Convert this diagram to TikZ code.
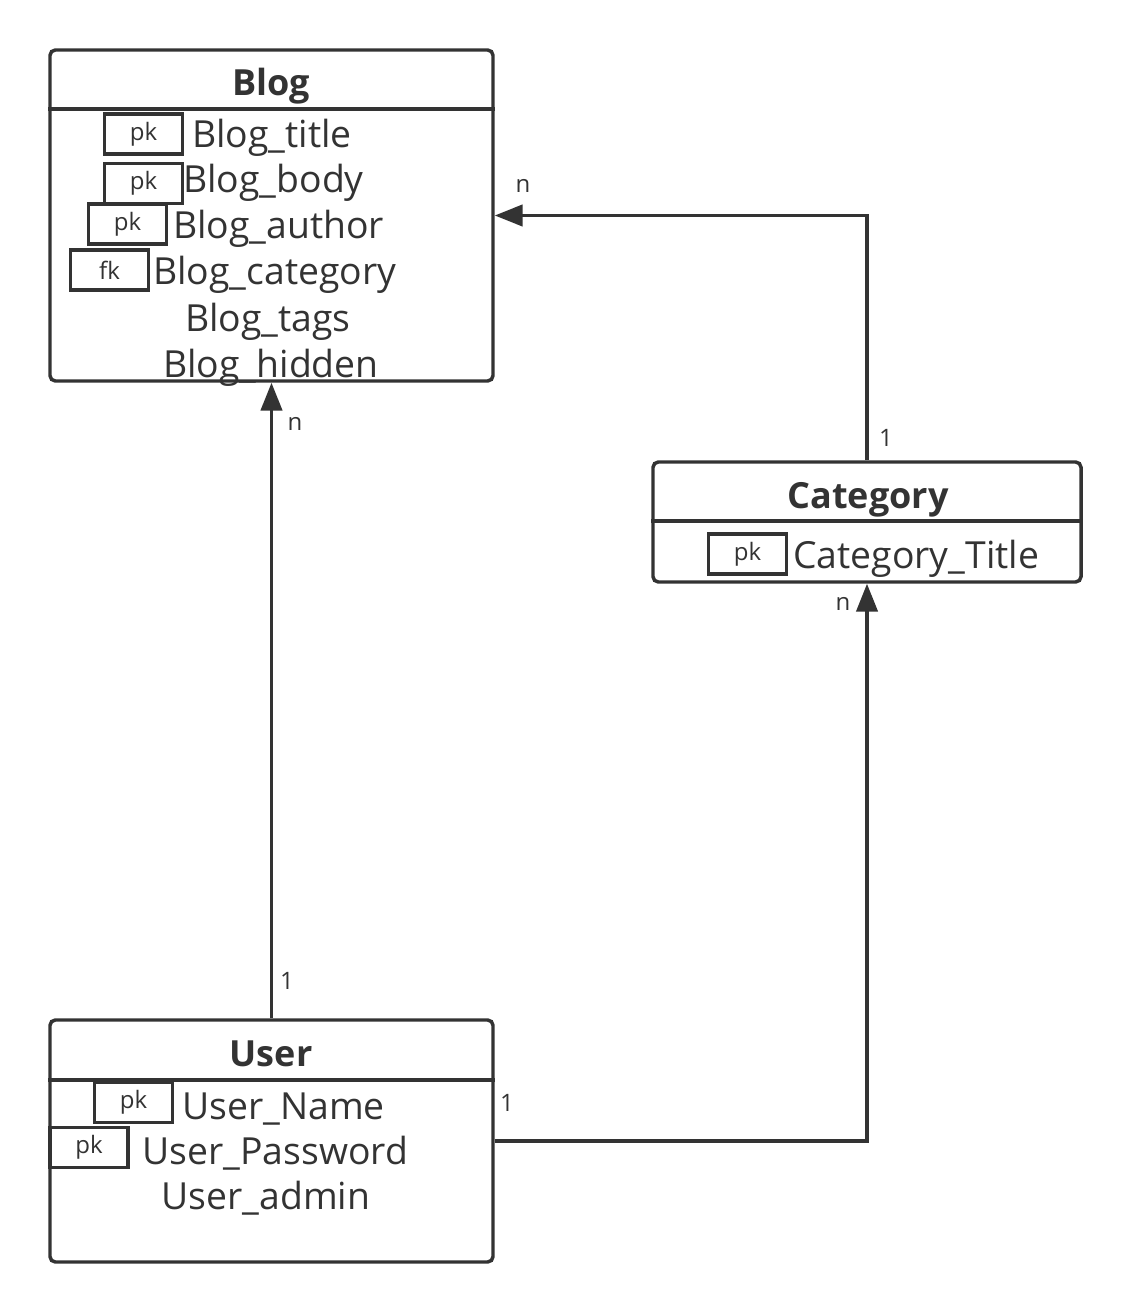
\documentclass[tikz,border=0pt]{standalone}
\usepackage{fontspec}
\setmainfont{Open Sans}
\usetikzlibrary{arrows.meta}
\definecolor{ink}{HTML}{333333}
\begin{document}
\begin{tikzpicture}[x=0.75pt,y=-0.75pt,
  entity/.style={draw=ink, rounded corners=4pt, line width=2.6pt, inner sep=0pt},
  keybox/.style={draw=ink, line width=2.6pt, minimum width=58.5pt, minimum height=30pt, inner sep=0pt, text=ink, font=\fontsize{18}{18}\selectfont},
  field/.style={anchor=base west, inner sep=0pt, text=ink, font=\fontsize{28}{28}\selectfont},
  cfield/.style={anchor=base, inner sep=0pt, text=ink, font=\fontsize{28}{28}\selectfont},
  etitle/.style={anchor=base, inner sep=0pt, text=ink, font=\bfseries\fontsize{27}{27}\selectfont},
  card/.style={inner sep=0pt, text=ink, font=\fontsize{18}{18}\selectfont},
  link/.style={draw=ink, line width=2.6pt, -{Triangle[length=21pt,width=16pt]}},
  sep/.style={draw=ink, line width=2.6pt}]
\useasboundingbox (0,0) rectangle (1131,1312);

% Blog entity
\node[entity, minimum width=332.25pt, minimum height=248.25pt] (blog) at (271.5,215.5) {};
\coordinate (bh) at (0,109);
\draw[sep] (blog.west |- bh) -- (blog.east |- bh);
\node[etitle] (blogT) at (271,96) {Blog};
\node[keybox] (bk1) at (143.5,134) {pk};
\node[field] (bf1) at (192,148) {Blog\_title};
\node[keybox] (bk2) at (143.5,183.5) {pk};
\node[field] (bf2) at (183,193) {Blog\_body};
\node[keybox] (bk3) at (127.5,224) {pk};
\node[field] (bf3) at (173,239) {Blog\_author};
\node[keybox] (bk4) at (109.5,270) {fk};
\node[field] (bf4) at (153,285) {Blog\_category};
\node[cfield] (bf5) at (268,331) {Blog\_tags};
\node[cfield] (bf6) at (271,377) {Blog\_hidden};

% Category entity
\node[entity, minimum width=321pt, minimum height=90pt] (cat) at (867,522) {};
\coordinate (ch) at (0,521);
\draw[sep] (cat.west |- ch) -- (cat.east |- ch);
\node[etitle] (catT) at (868,508) {Category};
\node[keybox] (ck1) at (747.5,554) {pk};
\node[field] (cf1) at (793,568) {Category\_Title};

% User entity
\node[entity, minimum width=332.25pt, minimum height=181.5pt] (user) at (271.5,1141) {};
\coordinate (uh) at (0,1080);
\draw[sep] (user.west |- uh) -- (user.east |- uh);
\node[etitle] (userT) at (271,1066) {User};
\node[keybox] (uk1) at (133.5,1102.5) {pk};
\node[field] (uf1) at (182,1119) {User\_Name};
\node[keybox] (uk2) at (89,1147.5) {pk};
\node[field] (uf2) at (142,1164) {User\_Password};
\node[cfield] (uf3) at (266,1209) {User\_admin};

% connectors
\draw[link] (user.north) -- (blog.south);
\draw[link] (cat.north) |- (blog.east);
\draw[link] (user.east) -| (cat.south);

% cardinalities
\node[card] (c1) at (295,424) {n};
\node[card] (c2) at (287,981) {1};
\node[card] (c3) at (523,186) {n};
\node[card] (c4) at (886,438) {1};
\node[card] (c5) at (507,1103) {1};
\node[card] (c6) at (843,604) {n};
\end{tikzpicture}
\end{document}
